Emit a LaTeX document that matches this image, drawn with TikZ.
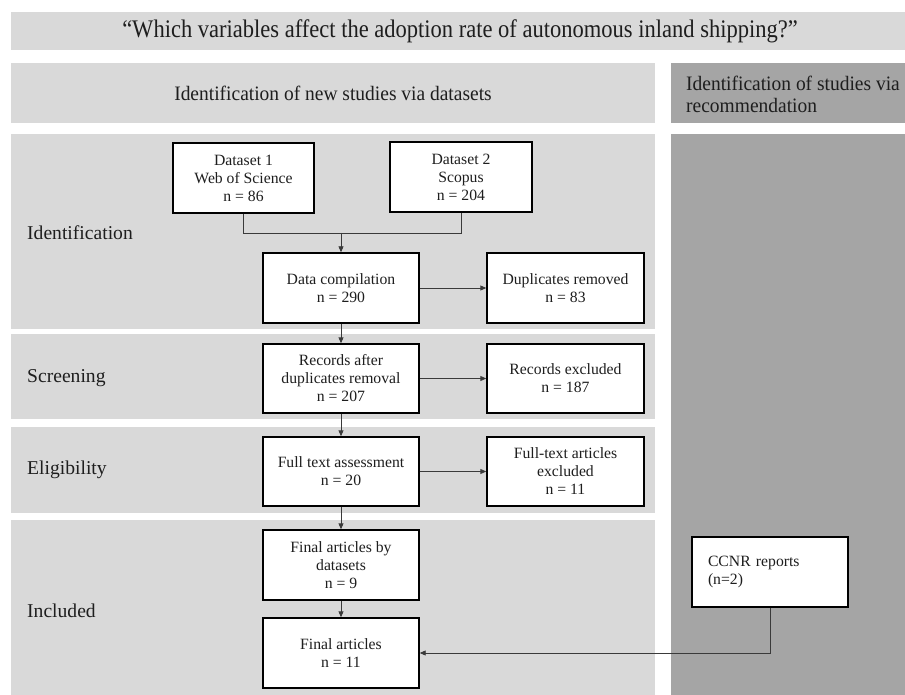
\documentclass[tikz,border=0pt]{standalone}
\usepackage{fontspec}
\setmainfont{Liberation Serif}
\newfontfamily\titlefont[FakeStretch=0.89]{Liberation Serif}
\newfontfamily\headfont[FakeStretch=0.95]{Liberation Serif}
\usetikzlibrary{arrows.meta}
\definecolor{bandlight}{HTML}{D9D9D9}
\definecolor{banddark}{HTML}{A5A5A5}
\definecolor{linegray}{HTML}{3A3A3A}
\definecolor{inkgray}{HTML}{1E1E1E}
\begin{document}
\begin{tikzpicture}[x=1pt,y=-1pt,
  flowbox/.style={draw=black, line width=1.4pt, fill=white, minimum width=156pt,
    minimum height=70pt, inner sep=0pt, align=center, text=inkgray,
    font=\fontsize{15.7}{18}\selectfont},
  link/.style={draw=linegray, line width=0.9pt},
  arr/.style={link, -{Triangle[length=6pt,width=5pt]}},
  stagelabel/.style={anchor=west, inner sep=0pt, text=inkgray,
    font=\fontsize{19.6}{22}\selectfont},
  band/.style={fill=bandlight, draw=none},
  darkband/.style={fill=banddark, draw=none}
]
\useasboundingbox (0,0) rectangle (905,695);
\fill[white] (0,0) rectangle (905,695);

% background bands
\path[band] (11,12) rectangle (905,50);
\path[band] (11,63) rectangle (655,123);
\path[darkband] (671,63) rectangle (905,123);
\path[band] (11,134) rectangle (655,329);
\path[band] (11,334) rectangle (655,419);
\path[band] (11,427) rectangle (655,513);
\path[band] (11,520) rectangle (655,695);
\path[darkband] (671,134) rectangle (905,695);

% headings
\node[inner sep=0pt, text=inkgray, font=\titlefont\fontsize{25.3}{28}\selectfont] (title) at (460,31)
  {“Which variables affect the adoption rate of autonomous inland shipping?”};
\node[inner sep=0pt, text=inkgray, font=\headfont\fontsize{20.5}{22}\selectfont] (hleft) at (333,93)
  {Identification of new studies via datasets};
\node[anchor=west, inner sep=0pt, align=left, text=inkgray, font=\headfont\fontsize{20.5}{22}\selectfont] (hright) at (686,94)
  {Identification of studies via\\recommendation};

% stage labels
\node[stagelabel] (lid) at (27,233) {Identification};
\node[stagelabel] (lsc) at (27,378) {Screening};
\node[stagelabel] (lel) at (27,470) {Eligibility};
\node[stagelabel] (lin) at (27,611) {Included};

% boxes
\node[flowbox, minimum width=141pt] (d1) at (243.5,178) {Dataset 1\\Web of Science\\n = 86};
\node[flowbox, minimum width=142pt] (d2) at (461,177) {Dataset 2\\Scopus\\n = 204};
\node[flowbox] (dc) at (341,288) {Data compilation\\n = 290};
\node[flowbox, minimum width=157pt] (dr) at (565.5,288) {Duplicates removed\\n = 83};
\node[flowbox, minimum height=69pt] (ra) at (341,378.5) {Records after\\duplicates removal\\n = 207};
\node[flowbox, minimum width=157pt, minimum height=69pt] (re) at (565.5,378.5) {Records excluded\\n = 187};
\node[flowbox, minimum height=69pt] (ft) at (341,471.5) {Full text assessment\\n = 20};
\node[flowbox, minimum width=157pt, minimum height=69pt] (fe) at (565.5,471.5) {Full-text articles\\excluded\\n = 11};
\node[flowbox] (fd) at (341,565) {Final articles by\\datasets\\n = 9};
\node[flowbox] (fa) at (341,653) {Final articles\\n = 11};
\node[flowbox, align=left, text width=124pt, inner xsep=16pt] (cc) at (770,572) {CCNR reports\\(n=2)};

% connectors
\coordinate (join) at (341,233);
\draw[link] (d1.south) -- (d1.south |- join) -| (d2.south);
\draw[arr] (join) -- (dc.north);
\draw[arr] (dc.east) -- (dr.west);
\draw[arr] (dc.south) -- (ra.north);
\draw[arr] (ra.east) -- (re.west);
\draw[arr] (ra.south) -- (ft.north);
\draw[arr] (ft.east) -- (fe.west);
\draw[arr] (ft.south) -- (fd.north);
\draw[arr] (fd.south) -- (fa.north);
\draw[arr] (cc.south) |- (fa.east);
\end{tikzpicture}
\end{document}
